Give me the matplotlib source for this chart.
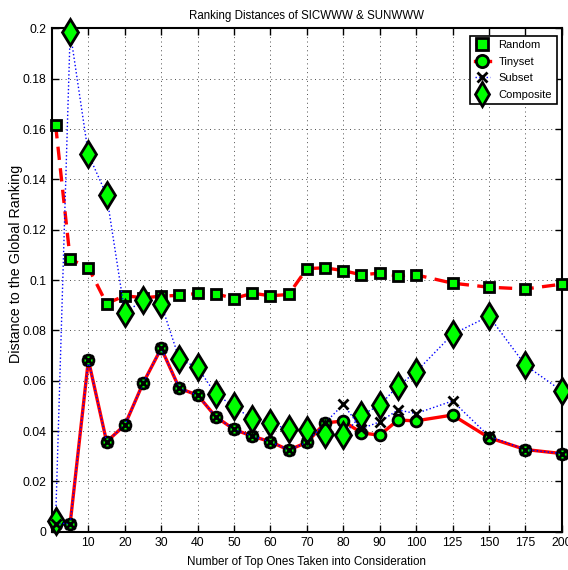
import numpy as np
import matplotlib
matplotlib.use("Agg")
import matplotlib.pyplot as plt

plt.rcParams['font.family'] = ['Liberation Sans', 'DejaVu Sans']

top_n = [1, 5, 10, 15, 20, 25, 30, 35, 40, 45, 50, 55, 60, 65, 70, 75, 80, 85, 90, 95, 100, 125, 150, 175, 200]

random_d = [0.1616, 0.1083, 0.1050, 0.0907, 0.0938, 0.0930, 0.0936, 0.0940, 0.0947, 0.0946, 0.0927, 0.0948, 0.0938, 0.0943,
            0.1046, 0.1049, 0.1038, 0.1021, 0.1028, 0.1017, 0.1021, 0.0988, 0.0972, 0.0965, 0.0984]
tinyset_d = [0.0033, 0.0033, 0.0683, 0.0358, 0.0424, 0.0590, 0.0729, 0.0570, 0.0543, 0.0457, 0.0407, 0.0380, 0.0358, 0.0325,
             0.0355, 0.0433, 0.0440, 0.0393, 0.0384, 0.0444, 0.0441, 0.0464, 0.0374, 0.0327, 0.0311]
subset_d = [0.0033, 0.0033, 0.0683, 0.0358, 0.0424, 0.0590, 0.0729, 0.0570, 0.0543, 0.0457, 0.0407, 0.0380, 0.0358, 0.0325,
            0.0355, 0.0433, 0.0506, 0.0410, 0.0437, 0.0484, 0.0470, 0.0520, 0.0380, 0.0327, 0.0311]
composite_d = [0.0044, 0.1987, 0.1500, 0.1338, 0.0870, 0.0920, 0.0905, 0.0685, 0.0653, 0.0546, 0.0499, 0.0447, 0.0431, 0.0407,
               0.0404, 0.0390, 0.0384, 0.0464, 0.0503, 0.0579, 0.0636, 0.0785, 0.0857, 0.0662, 0.0560]

xticks = [10, 20, 30, 40, 50, 60, 70, 80, 90, 100, 125, 150, 175, 200]
yticks = [0, 0.02, 0.04, 0.06, 0.08, 0.1, 0.12, 0.14, 0.16, 0.18, 0.2]
ytick_labels = ['0', '0.02', '0.04', '0.06', '0.08', '0.1', '0.12', '0.14', '0.16', '0.18', '0.2']


def fwd(x):
    x = np.asarray(x, dtype=float)
    return np.where(x <= 100, x, 100 + (x - 100) * 0.4)


def inv(p):
    p = np.asarray(p, dtype=float)
    return np.where(p <= 100, p, 100 + (p - 100) / 0.4)


fig = plt.figure(figsize=(5.68, 5.70), dpi=100)
ax = fig.add_axes([0.0915, 0.067, 0.8975, 0.883])
ax.set_xscale('function', functions=(fwd, inv))

ax.plot(top_n, random_d, color='red', linestyle='--', linewidth=2.4, dashes=(4, 2.5),
        marker='s', markersize=6.8, markerfacecolor='#00ff00', markeredgecolor='black', markeredgewidth=2,
        label='Random', clip_on=False, zorder=3)
ax.plot(top_n, tinyset_d, color='red', linestyle='-', linewidth=2.4,
        marker='o', markersize=7.8, markerfacecolor='#00ff00', markeredgecolor='black', markeredgewidth=2,
        label='Tinyset', clip_on=False, zorder=3)
ax.plot(top_n, subset_d, color='blue', linestyle=':', linewidth=1.0,
        marker='x', markersize=6.5, markeredgecolor='black', markeredgewidth=2,
        label='Subset', clip_on=False, zorder=4)
ax.plot(top_n, composite_d, color='blue', linestyle=':', linewidth=1.0,
        marker='d', markersize=12.8, markerfacecolor='#00ff00', markeredgecolor='black', markeredgewidth=2,
        label='Composite', clip_on=False, zorder=3)

ax.set_xlim(0, 200)
ax.set_ylim(0, 0.2)
ax.set_xticks(xticks)
ax.set_xticklabels([str(t) for t in xticks], fontsize=8.8)
ax.set_yticks(yticks)
ax.set_yticklabels(ytick_labels, fontsize=8.8)
ax.minorticks_off()
ax.tick_params(direction='in', length=5, width=1, top=True, right=True, pad=4)
ax.grid(True, linestyle=(0, (1, 3.5)), color='black', linewidth=0.7, alpha=0.7)
for s in ax.spines.values():
    s.set_linewidth(1.5)

ax.set_title('Ranking Distances of SICWWW & SUNWWW', fontsize=8.3, pad=6.5)
ax.set_xlabel('Number of Top Ones Taken into Consideration', fontsize=8.4, labelpad=4.5)
ax.set_ylabel('Distance to the Global Ranking', fontsize=10.3)
ax.yaxis.set_label_coords(-0.057, 0.532)

leg = ax.legend(loc='upper right', bbox_to_anchor=(0.99, 0.986), borderaxespad=0,
                fontsize=8, fancybox=False, framealpha=1, edgecolor='black',
                handlelength=1.3, borderpad=0.42, labelspacing=0.58, handletextpad=0.8,
                markerscale=1.0)
leg.get_frame().set_linewidth(1.2)
handles = leg.legend_handles
handles[0].set_markersize(8.8)
handles[1].set_markersize(8.8)
handles[2].set_markersize(7)
handles[3].set_markersize(12.5)

fig.savefig('out.png', dpi=100)
